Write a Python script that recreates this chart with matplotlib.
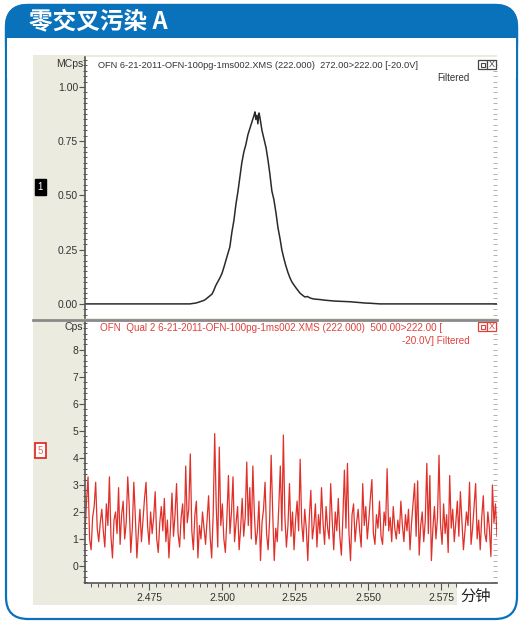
import numpy as np
import matplotlib
matplotlib.use("Agg")
import matplotlib.pyplot as plt
from matplotlib.patches import FancyBboxPatch, Rectangle
from matplotlib.ticker import MultipleLocator, FormatStrFormatter

plt.rcParams['font.family'] = ['Liberation Sans', 'Noto Sans CJK SC', 'DejaVu Sans']

# ---- data ----
title = "零交叉污染 A"
top_label = "OFN 6-21-2011-OFN-100pg-1ms002.XMS (222.000)  272.00>222.00 [-20.0V]"
bot_label1 = "OFN  Qual 2 6-21-2011-OFN-100pg-1ms002.XMS (222.000)  500.00>222.00 ["
bot_label2 = "-20.0V] Filtered"
x_unit = "分钟"
x_ticks = [2.475, 2.500, 2.525, 2.550, 2.575]
top_yticks = [0.00, 0.25, 0.50, 0.75, 1.00]
bot_yticks = [0, 1, 2, 3, 4, 5, 6, 7, 8]

# quantifier trace 272>222 (MCps)
quant_time = [2.4531, 2.4890, 2.4911, 2.4925, 2.4938, 2.4945, 2.4952, 2.4966, 2.4972,
              2.4979, 2.4993, 2.5000, 2.5007, 2.5021, 2.5027, 2.5034, 2.5041, 2.5048,
              2.5055, 2.5062, 2.5068, 2.5075, 2.5082, 2.5089, 2.5096, 2.5103, 2.5110,
              2.5113, 2.5116, 2.5120, 2.5123, 2.5127, 2.5130, 2.5137, 2.5144, 2.5151,
              2.5158, 2.5164, 2.5171, 2.5178, 2.5185, 2.5192, 2.5199, 2.5205, 2.5212,
              2.5219, 2.5226, 2.5233, 2.5240, 2.5253, 2.5267, 2.5276, 2.5284, 2.5293,
              2.5301, 2.5310, 2.5318, 2.5336, 2.5353, 2.5370, 2.5387, 2.5404, 2.5421,
              2.5438, 2.5455, 2.5473, 2.5490, 2.5507, 2.5541, 2.5942]
quant_signal = [0.000, 0.000, 0.004, 0.010, 0.016, 0.022, 0.030, 0.045, 0.062,
                0.085, 0.120, 0.140, 0.170, 0.235, 0.262, 0.330, 0.385, 0.460,
                0.520, 0.590, 0.650, 0.700, 0.735, 0.780, 0.810, 0.840, 0.870,
                0.885, 0.850, 0.870, 0.830, 0.880, 0.860, 0.800, 0.760, 0.720,
                0.660, 0.600, 0.520, 0.480, 0.420, 0.350, 0.300, 0.250, 0.210,
                0.175, 0.145, 0.120, 0.100, 0.075, 0.050, 0.040, 0.032, 0.034,
                0.028, 0.024, 0.022, 0.020, 0.017, 0.015, 0.013, 0.012, 0.011,
                0.010, 0.008, 0.006, 0.004, 0.003, 0.000, 0.000]

# qualifier trace 500>222 (Cps)
qual_start, qual_end = 2.4531, 2.5942
qual_signal = [
    1.2, 2.4, 3.3, 1.0, 0.6, 1.8, 2.2, 3.1, 1.4, 0.9,
    1.6, 2.1, 1.3, 0.7, 2.3, 1.5, 3.3, 1.1, 0.3, 1.7,
    2.0, 1.2, 2.9, 0.8, 1.9, 2.4, 1.0, 1.6, 3.3, 2.2,
    0.5, 1.4, 3.1, 1.8, 0.3, 1.3, 2.1, 0.9, 1.7, 2.5,
    3.1, 1.5, 0.8, 2.0, 1.2, 1.8, 2.75, 1.0, 0.5, 1.6,
    2.2, 1.3, 2.5, 0.9, 1.7, 0.3, 1.4, 2.7, 1.1, 1.9,
    3.05, 1.2, 0.7, 1.8, 2.3, 1.0, 3.7, 1.6, 2.1, 4.15,
    1.3, 0.6, 1.9, 2.4, 0.3, 1.5, 1.0, 2.0, 1.4, 0.8,
    1.7, 2.6, 1.1, 0.3, 1.9, 4.9, 2.2, 0.7, 4.4, 1.5,
    2.3, 1.0, 0.5, 1.8, 3.35, 1.2, 2.0, 3.3, 0.9, 1.6,
    2.2, 0.6, 1.4, 2.5, 1.1, 1.8, 3.85, 1.5, 2.9, 1.0,
    3.7, 1.9, 0.8, 1.3, 2.4, 0.2, 1.6, 2.1, 3.1, 1.2,
    0.6, 1.7, 4.1, 2.0, 0.2, 1.4, 0.9, 2.2, 3.7, 1.3,
    4.85, 1.8, 0.7, 1.5, 3.05, 1.1, 2.0, 0.6, 1.7, 2.4,
    1.3, 3.95, 1.6, 0.9, 2.1, 1.4, 0.2, 1.8, 2.8, 1.0,
    1.5, 2.3, 0.7, 1.9, 1.2, 2.9, 1.6, 0.8, 2.2, 1.4,
    1.0, 3.05, 1.7, 0.6, 2.0, 1.3, 2.5, 1.1, 0.4, 1.8,
    3.55, 1.4, 3.8, 1.2, 0.2, 1.9, 2.3, 0.9, 1.6, 2.1,
    1.3, 0.7, 3.05, 1.5, 2.2, 1.0, 1.7, 2.5, 3.2, 1.2,
    0.8, 1.9, 1.4, 2.4, 1.1, 0.8, 2.0, 1.5, 3.6, 1.3,
    1.8, 0.9, 2.2, 1.4, 1.0, 1.7, 1.2, 2.4, 1.5, 0.9,
    1.9, 1.3, 2.1, 0.6, 1.6, 2.3, 3.05, 1.1, 3.15, 0.4,
    1.5, 2.0, 0.9, 1.7, 3.8, 1.2, 3.35, 0.2, 1.4, 2.2,
    1.0, 1.8, 4.1, 1.5, 0.8, 2.3, 1.2, 1.9, 0.5, 3.35,
    1.4, 2.1, 0.9, 1.6, 2.4, 1.1, 2.75, 1.7, 0.6, 1.3,
    2.0, 1.5, 3.1, 0.8, 1.4, 2.2, 3.05, 1.0, 1.7, 0.6,
    1.8, 2.6, 1.2, 0.9, 2.0, 1.4, 0.35, 3.0, 1.6, 2.3,
    1.1]
qual_time = np.linspace(qual_start, qual_end, len(qual_signal))

# ---- figure ----
W, H = 520, 624
fig = plt.figure(figsize=(W / 100, H / 100), dpi=100)
blue = '#0a72bb'
beige = '#ecebe0'

bg = fig.add_axes([0, 0, 1, 1], zorder=0)
bg.set_xlim(0, W)
bg.set_ylim(H, 0)
bg.axis('off')
bg.add_patch(FancyBboxPatch((6, 5), 511, 614, boxstyle="round,pad=0,rounding_size=22",
                            fc='white', ec=blue, lw=1.6))
bg.add_patch(FancyBboxPatch((6, 5), 511, 60, boxstyle="round,pad=0,rounding_size=22",
                            fc=blue, ec=blue, lw=1.6))
bg.add_patch(Rectangle((6.9, 38), 509.2, 40, fc='white', ec='none'))
bg.add_patch(Rectangle((33, 55), 464, 550, fc=beige, ec='none'))
bg.text(29, 21, title, color='white', fontsize=17, fontweight='bold',
        family=['Noto Sans CJK SC', 'DejaVu Sans'], va='center', ha='left')


def px_axes(x0, y0, x1, y1):
    return fig.add_axes([x0 / W, 1 - y1 / H, (x1 - x0) / W, (y1 - y0) / H], zorder=2)


def style_axes(ax, yticks, ylim, minor, fmt):
    ax.set_facecolor('white')
    ax.set_ylim(*ylim)
    ax.set_xlim(qual_start, qual_end)
    ax.set_yticks(yticks)
    ax.yaxis.set_minor_locator(MultipleLocator(minor))
    ax.yaxis.set_major_formatter(FormatStrFormatter(fmt))
    for s in ['top', 'right']:
        ax.spines[s].set_visible(False)
    ax.spines['left'].set_color('#555555')
    ax.spines['left'].set_linewidth(1.2)
    ax.tick_params(axis='y', which='major', length=4, width=0.8, color='#555555',
                   labelsize=7.5, labelcolor='#333333', pad=1)
    ax.tick_params(axis='y', which='minor', length=2.5, width=0.7, color='#555555',
                   direction='inout')
    sec = ax.secondary_yaxis('right')
    sec.set_yticks(yticks)
    sec.yaxis.set_minor_locator(MultipleLocator(minor))
    sec.tick_params(which='both', direction='in', colors='#b0b0b0', labelright=False,
                    length=3, width=0.7)
    sec.spines['right'].set_visible(False)


# top panel
ax1 = px_axes(85, 57, 497, 318)
style_axes(ax1, top_yticks, (-0.065, 1.138), 0.025, '%.2f')
ax1.spines['bottom'].set_visible(False)
ax1.set_xticks([])
ax1.plot(quant_time, quant_signal, color='#2a2a2a', lw=1.1)

# bottom panel
ax2 = px_axes(85, 321, 497, 583)
style_axes(ax2, bot_yticks, (-0.63, 9.07), 0.2, '%d')
ax2.plot(qual_time, qual_signal, color='#e0302a', lw=0.9)
ax2.set_xticks(x_ticks)
ax2.xaxis.set_major_formatter(FormatStrFormatter('%.3f'))
ax2.xaxis.set_minor_locator(MultipleLocator(0.0025))
ax2.spines['bottom'].set_color('#555555')
ax2.spines['bottom'].set_linewidth(1.2)
ax2.tick_params(axis='x', which='major', length=5, width=0.8, color='#555555',
                labelsize=7.5, labelcolor='#333333', pad=2)
ax2.tick_params(axis='x', which='minor', length=3, width=0.7, color='#555555')

# overlay texts
ov = fig.add_axes([0, 0, 1, 1], zorder=5)
ov.set_xlim(0, W)
ov.set_ylim(H, 0)
ov.axis('off')
ov.patch.set_alpha(0)
ov.plot([33, 497], [319.5, 319.5], color='#8a8a8a', lw=2)

ov.text(83, 64, "MCps", fontsize=7.5, color='#333333', ha='right', va='center')
ov.text(83, 327, "Cps", fontsize=7.5, color='#333333', ha='right', va='center')
ov.text(98, 66, top_label, fontsize=6.7, color='#333333', ha='left', va='center')
ov.text(470, 78, "Filtered", fontsize=7, color='#333333', ha='right', va='center')
ov.text(100, 328, bot_label1, fontsize=7.1, color='#e0403a', ha='left', va='center')
ov.text(470, 341, bot_label2, fontsize=7.1, color='#e0403a', ha='right', va='center')

for y0, c in [(60, '#444444'), (322, '#e0403a')]:
    ov.add_patch(Rectangle((478, y0), 9, 9, fc='white', ec=c, lw=0.9))
    ov.add_patch(Rectangle((480.5, y0 + 2.5), 4, 4, fc='none', ec=c, lw=0.8))
    ov.add_patch(Rectangle((487, y0), 9, 9, fc='white', ec=c, lw=0.9))
    ov.text(491.5, y0 + 4.8, "X", fontsize=6.5, color=c, ha='center', va='center')

ov.add_patch(Rectangle((35, 179), 11, 16, fc='black', ec='black'))
ov.text(40.5, 187, "1", fontsize=7, color='white', ha='center', va='center')
ov.add_patch(Rectangle((35, 443), 11, 15, fc='white', ec='#e0302a', lw=1.3))
ov.text(40.5, 450.5, "5", fontsize=7, color='#e86a60', ha='center', va='center')

ov.add_patch(Rectangle((457, 584), 40, 21, fc='white', ec='none'))
ov.text(476, 596, x_unit, fontsize=11, color='#222222', ha='center', va='center',
        family=['Noto Sans CJK SC', 'DejaVu Sans'])

fig.savefig('out.png', dpi=100)
